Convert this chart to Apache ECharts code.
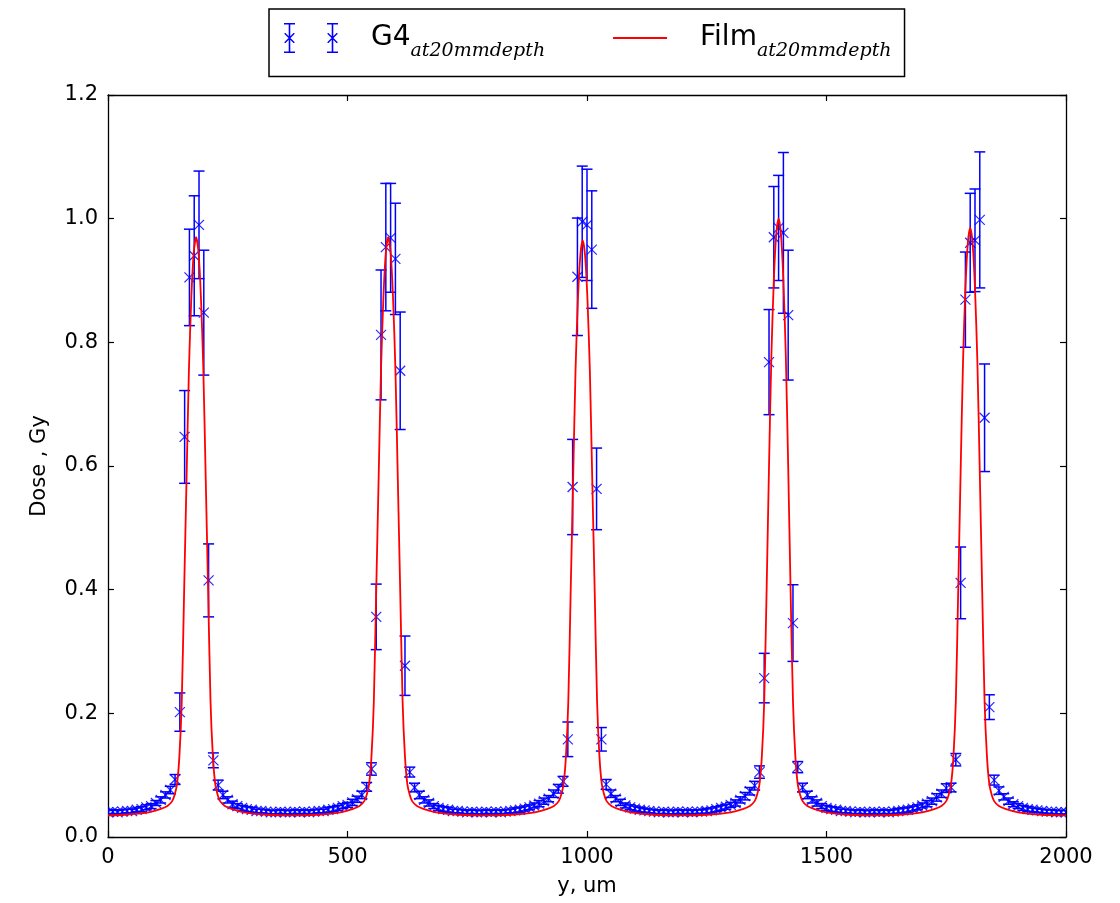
<!DOCTYPE html>
<html>
<head>
<meta charset="utf-8">
<title>G4 vs Film dose profile</title>
<script src="https://cdn.jsdelivr.net/npm/echarts@6/dist/echarts.min.js"></script>
<style>
  html, body { margin: 0; padding: 0; background: #fff; }
  #chart-container { width: 1120px; height: 903px; }
</style>
</head>
<body>
<div id="chart-container"></div>
<script>
"use strict";

// G4 simulation: position (um), dose (Gy) and error bar half height
var g4X = [
  0, 10, 20, 30, 40, 50, 60, 70, 80, 90,
  100, 110, 120, 130, 140, 150, 160, 170, 180, 190,
  200, 210, 220, 230, 240, 250, 260, 270, 280, 290,
  300, 310, 320, 330, 340, 350, 360, 370, 380, 390,
  400, 410, 420, 430, 440, 450, 460, 470, 480, 490,
  500, 510, 520, 530, 540, 550, 560, 570, 580, 590,
  600, 610, 620, 630, 640, 650, 660, 670, 680, 690,
  700, 710, 720, 730, 740, 750, 760, 770, 780, 790,
  800, 810, 820, 830, 840, 850, 860, 870, 880, 890,
  900, 910, 920, 930, 940, 950, 960, 970, 980, 990,
  1000, 1010, 1020, 1030, 1040, 1050, 1060, 1070, 1080, 1090,
  1100, 1110, 1120, 1130, 1140, 1150, 1160, 1170, 1180, 1190,
  1200, 1210, 1220, 1230, 1240, 1250, 1260, 1270, 1280, 1290,
  1300, 1310, 1320, 1330, 1340, 1350, 1360, 1370, 1380, 1390,
  1400, 1410, 1420, 1430, 1440, 1450, 1460, 1470, 1480, 1490,
  1500, 1510, 1520, 1530, 1540, 1550, 1560, 1570, 1580, 1590,
  1600, 1610, 1620, 1630, 1640, 1650, 1660, 1670, 1680, 1690,
  1700, 1710, 1720, 1730, 1740, 1750, 1760, 1770, 1780, 1790,
  1800, 1810, 1820, 1830, 1840, 1850, 1860, 1870, 1880, 1890,
  1900, 1910, 1920, 1930, 1940, 1950, 1960, 1970, 1980, 1990,
  2000
];

var g4Y = [
  0.040, 0.041, 0.040, 0.041, 0.042, 0.042, 0.044, 0.045, 0.048, 0.050,
  0.055, 0.060, 0.068, 0.076, 0.093, 0.202, 0.647, 0.905, 0.940, 0.990,
  0.848, 0.415, 0.124, 0.084, 0.068, 0.060, 0.053, 0.050, 0.047, 0.045,
  0.044, 0.042, 0.042, 0.041, 0.040, 0.040, 0.041, 0.040, 0.040, 0.041,
  0.040, 0.041, 0.040, 0.041, 0.042, 0.042, 0.044, 0.045, 0.047, 0.050,
  0.052, 0.056, 0.061, 0.068, 0.081, 0.110, 0.356, 0.812, 0.954, 0.969,
  0.935, 0.754, 0.277, 0.105, 0.080, 0.068, 0.060, 0.055, 0.050, 0.047,
  0.045, 0.044, 0.042, 0.042, 0.041, 0.040, 0.041, 0.040, 0.040, 0.041,
  0.040, 0.041, 0.040, 0.041, 0.042, 0.043, 0.044, 0.046, 0.048, 0.051,
  0.054, 0.058, 0.062, 0.070, 0.078, 0.090, 0.158, 0.566, 0.906, 0.995,
  0.990, 0.950, 0.563, 0.158, 0.085, 0.070, 0.062, 0.056, 0.051, 0.048,
  0.046, 0.044, 0.043, 0.042, 0.041, 0.040, 0.041, 0.040, 0.040, 0.041,
  0.040, 0.041, 0.040, 0.041, 0.041, 0.042, 0.043, 0.045, 0.047, 0.049,
  0.052, 0.055, 0.060, 0.066, 0.074, 0.083, 0.105, 0.257, 0.768, 0.970,
  0.985, 0.977, 0.844, 0.346, 0.113, 0.080, 0.068, 0.060, 0.055, 0.050,
  0.047, 0.045, 0.044, 0.042, 0.042, 0.041, 0.040, 0.041, 0.040, 0.040,
  0.041, 0.040, 0.041, 0.040, 0.041, 0.042, 0.043, 0.044, 0.046, 0.048,
  0.051, 0.054, 0.058, 0.064, 0.070, 0.079, 0.080, 0.125, 0.411, 0.869,
  0.961, 0.965, 0.998, 0.678, 0.210, 0.092, 0.075, 0.065, 0.058, 0.053,
  0.050, 0.047, 0.045, 0.044, 0.043, 0.042, 0.041, 0.041, 0.040, 0.040,
  0.040
];

var g4Err = [
  0.003, 0.003, 0.003, 0.003, 0.003, 0.003, 0.003, 0.004, 0.004, 0.004,
  0.004, 0.005, 0.005, 0.006, 0.008, 0.031, 0.075, 0.078, 0.097, 0.087,
  0.101, 0.059, 0.012, 0.008, 0.006, 0.005, 0.005, 0.004, 0.004, 0.004,
  0.004, 0.003, 0.003, 0.003, 0.003, 0.003, 0.003, 0.003, 0.003, 0.003,
  0.003, 0.003, 0.003, 0.003, 0.003, 0.003, 0.004, 0.004, 0.004, 0.004,
  0.004, 0.005, 0.005, 0.006, 0.007, 0.010, 0.053, 0.105, 0.103, 0.088,
  0.090, 0.095, 0.048, 0.008, 0.007, 0.006, 0.005, 0.005, 0.004, 0.004,
  0.004, 0.004, 0.003, 0.003, 0.003, 0.003, 0.003, 0.003, 0.003, 0.003,
  0.003, 0.003, 0.003, 0.003, 0.003, 0.004, 0.004, 0.004, 0.004, 0.004,
  0.005, 0.005, 0.005, 0.006, 0.007, 0.008, 0.028, 0.077, 0.095, 0.090,
  0.090, 0.095, 0.066, 0.019, 0.008, 0.006, 0.005, 0.005, 0.004, 0.004,
  0.004, 0.004, 0.003, 0.003, 0.003, 0.003, 0.003, 0.003, 0.003, 0.003,
  0.003, 0.003, 0.003, 0.003, 0.003, 0.004, 0.004, 0.004, 0.004, 0.004,
  0.004, 0.005, 0.005, 0.006, 0.006, 0.007, 0.010, 0.040, 0.085, 0.082,
  0.085, 0.130, 0.105, 0.062, 0.009, 0.007, 0.006, 0.005, 0.005, 0.004,
  0.004, 0.004, 0.004, 0.003, 0.003, 0.003, 0.003, 0.003, 0.003, 0.003,
  0.003, 0.003, 0.003, 0.003, 0.003, 0.004, 0.004, 0.004, 0.004, 0.004,
  0.004, 0.005, 0.005, 0.006, 0.006, 0.007, 0.007, 0.010, 0.058, 0.077,
  0.080, 0.083, 0.110, 0.087, 0.020, 0.008, 0.006, 0.005, 0.005, 0.004,
  0.004, 0.004, 0.004, 0.003, 0.003, 0.003, 0.003, 0.003, 0.003, 0.003,
  0.003
];

// Film measurement (smooth curve)
var filmX = [
  0,
  34, 84, 109, 124, 134, 139, 144, 149, 154, 159, 164, 169, 174, 179, 184,
  189, 194, 199, 204, 209, 214, 219, 224, 229, 234, 244, 259, 284, 334,
  385,
  435, 485, 510, 525, 535, 540, 545, 550, 555, 560, 565, 570, 575, 580, 585,
  590, 595, 600, 605, 610, 615, 620, 625, 630, 635, 645, 660, 685, 735,
  788,
  841, 891, 916, 931, 941, 946, 951, 956, 961, 966, 971, 976, 981, 986, 991,
  996, 1001, 1006, 1011, 1016, 1021, 1026, 1031, 1036, 1041, 1051, 1066, 1091, 1141,
  1195,
  1250, 1300, 1325, 1340, 1350, 1355, 1360, 1365, 1370, 1375, 1380, 1385, 1390, 1395, 1400,
  1405, 1410, 1415, 1420, 1425, 1430, 1435, 1440, 1445, 1450, 1460, 1475, 1500, 1550,
  1600,
  1650, 1700, 1725, 1740, 1750, 1755, 1760, 1765, 1770, 1775, 1780, 1785, 1790, 1795, 1800,
  1805, 1810, 1815, 1820, 1825, 1830, 1835, 1840, 1845, 1850, 1860, 1875, 1900, 1950,
  2000
];

var filmY = [
  0.035,
  0.036, 0.040, 0.045, 0.050, 0.058, 0.068, 0.085, 0.13, 0.22, 0.40, 0.58, 0.757, 0.873, 0.945, 0.97,
  0.945, 0.873, 0.757, 0.58, 0.40, 0.22, 0.13, 0.085, 0.068, 0.058, 0.050, 0.045, 0.040, 0.036,
  0.035,
  0.036, 0.040, 0.045, 0.050, 0.058, 0.068, 0.085, 0.13, 0.22, 0.40, 0.58, 0.757, 0.873, 0.945, 0.97,
  0.945, 0.873, 0.757, 0.58, 0.40, 0.22, 0.13, 0.085, 0.068, 0.058, 0.050, 0.045, 0.040, 0.036,
  0.035,
  0.036, 0.040, 0.045, 0.050, 0.058, 0.068, 0.085, 0.13, 0.22, 0.40, 0.577, 0.753, 0.869, 0.94, 0.965,
  0.94, 0.869, 0.753, 0.577, 0.40, 0.22, 0.13, 0.085, 0.068, 0.058, 0.050, 0.045, 0.040, 0.036,
  0.035,
  0.036, 0.040, 0.045, 0.050, 0.058, 0.068, 0.085, 0.13, 0.22, 0.40, 0.60, 0.78, 0.90, 0.974, 1.0,
  0.974, 0.90, 0.78, 0.60, 0.40, 0.22, 0.13, 0.085, 0.068, 0.058, 0.050, 0.045, 0.040, 0.036,
  0.035,
  0.036, 0.040, 0.045, 0.050, 0.058, 0.068, 0.085, 0.13, 0.22, 0.40, 0.59, 0.768, 0.887, 0.96, 0.985,
  0.96, 0.887, 0.768, 0.59, 0.40, 0.22, 0.13, 0.085, 0.068, 0.058, 0.050, 0.045, 0.040, 0.036,
  0.035
];

// axis ranges and tick steps
var xTicks = { min: 0, max: 2000, step: 500 };
var yTicks = { min: 0, max: 1.2, step: 0.2 };

var BLUE = '#0000ff';
var RED = '#ff0000';
var FONT = 'DejaVu Sans';

// pair up the arrays for the library
var g4Data = g4X.map(function (x, i) { return [x, g4Y[i], g4Err[i]]; });
var filmData = filmX.map(function (x, i) { return [x, filmY[i]]; });

// error bar + "x" marker, drawn through the axis scales
function renderErrorPoint(params, api) {
  var x = api.value(0), y = api.value(1), e = api.value(2);
  var c = api.coord([x, y]);
  var hi = api.coord([x, y + e]);
  var lo = api.coord([x, y - e]);
  var cap = 5.5, m = 5;
  function bar() { return { stroke: BLUE, lineWidth: 1.5, fill: null }; }
  function mk() { return { stroke: 'rgba(0,0,255,0.85)', lineWidth: 1.2, fill: null }; }
  return {
    type: 'group',
    children: [
      { type: 'line', shape: { x1: c[0], y1: hi[1], x2: c[0], y2: lo[1] }, style: bar() },
      { type: 'line', shape: { x1: c[0] - cap, y1: hi[1], x2: c[0] + cap, y2: hi[1] }, style: bar() },
      { type: 'line', shape: { x1: c[0] - cap, y1: lo[1], x2: c[0] + cap, y2: lo[1] }, style: bar() },
      { type: 'line', shape: { x1: c[0] - m, y1: c[1] - m, x2: c[0] + m, y2: c[1] + m }, style: mk() },
      { type: 'line', shape: { x1: c[0] - m, y1: c[1] + m, x2: c[0] + m, y2: c[1] - m }, style: mk() }
    ]
  };
}

// legend icon: two error bars with x markers (filled shapes)
function errGlyph(cx) {
  return 'M' + (cx - 5.5) + ',0h11v1.6h-11Z' +
    'M' + (cx - 5.5) + ',28.4h11v1.6h-11Z' +
    'M' + (cx - 0.8) + ',0h1.6v30h-1.6Z' +
    'M' + (cx - 5) + ',10L' + (cx - 4) + ',10L' + (cx + 5) + ',19L' + (cx + 5) + ',20L' + (cx + 4) + ',20L' + (cx - 5) + ',11Z' +
    'M' + (cx + 5) + ',10L' + (cx + 5) + ',11L' + (cx - 4) + ',20L' + (cx - 5) + ',20L' + (cx - 5) + ',19L' + (cx + 4) + ',10Z';
}
var g4Icon = 'path://' + errGlyph(6) + errGlyph(49);

var chart = echarts.init(document.getElementById('chart-container'), null, { renderer: 'canvas' });

function frameAxis(pos, range, showLabel, extra) {
  var a = {
    type: 'value',
    position: pos,
    min: range.min,
    max: range.max,
    interval: range.step,
    axisLine: { show: true, onZero: false, lineStyle: { color: '#000', width: 1.3 } },
    axisTick: { show: true, inside: true, length: 6, lineStyle: { color: '#000', width: 1.2 } },
    axisLabel: {
      show: showLabel, color: '#000', fontSize: 21, fontFamily: FONT, margin: 10,
      formatter: function (v) { return String(v); }
    },
    splitLine: { show: false }
  };
  for (var k in extra) { a[k] = extra[k]; }
  return a;
}

var options = {
  backgroundColor: '#fff',
  animation: false,
  grid: { left: 108, right: 54, top: 95, bottom: 66, containLabel: false },
  legend: {
    left: 269,
    top: 9,
    orient: 'horizontal',
    padding: [14, 13, 16, 15],
    itemGap: 67,
    itemWidth: 54,
    itemHeight: 30,
    borderColor: '#000',
    borderWidth: 1.5,
    borderRadius: 0,
    selectedMode: false,
    data: [
      { name: 'G4', icon: g4Icon, itemStyle: { color: BLUE, borderWidth: 0 } },
      {
        name: 'Film',
        itemStyle: { color: 'rgba(0,0,0,0)', borderColor: 'rgba(0,0,0,0)', borderWidth: 0, opacity: 0 },
        lineStyle: { color: RED, width: 1.8 }
      }
    ],
    formatter: function (name) {
      return '{m|' + name + '}{s|at20mmdepth}';
    },
    textStyle: {
      rich: {
        m: { fontSize: 28, fontFamily: FONT, color: '#000', padding: [0, 0, 0, 28] },
        s: { fontSize: 19, fontFamily: 'DejaVu Serif', fontStyle: 'italic', color: '#000', padding: [26, 0, 0, 0] }
      }
    }
  },
  xAxis: [
    frameAxis('bottom', xTicks, true, {
      name: 'y, um',
      nameLocation: 'middle',
      nameGap: 39,
      nameTextStyle: { color: '#000', fontSize: 21, fontFamily: FONT }
    }),
    frameAxis('top', xTicks, false, {})
  ],
  yAxis: [
    frameAxis('left', yTicks, true, {
      name: 'Dose , Gy',
      nameLocation: 'middle',
      nameGap: 58,
      nameRotate: 90,
      nameTextStyle: { color: '#000', fontSize: 21, fontFamily: FONT },
      axisLabel: {
        show: true, color: '#000', fontSize: 21, fontFamily: FONT, margin: 10,
        formatter: function (v) { return v.toFixed(1); }
      }
    }),
    frameAxis('right', yTicks, false, {})
  ],
  series: [
    {
      name: 'G4',
      type: 'custom',
      xAxisIndex: 0,
      yAxisIndex: 0,
      clip: true,
      itemStyle: { color: BLUE },
      renderItem: renderErrorPoint,
      encode: { x: 0, y: 1 },
      data: g4Data,
      z: 2
    },
    {
      name: 'Film',
      type: 'line',
      xAxisIndex: 0,
      yAxisIndex: 0,
      symbol: 'none',
      showSymbol: false,
      smooth: 0.25,
      clip: true,
      lineStyle: { color: RED, width: 1.8 },
      itemStyle: { color: RED },
      data: filmData,
      z: 3
    }
  ]
};

chart.setOption(options);
</script>
</body>
</html>
